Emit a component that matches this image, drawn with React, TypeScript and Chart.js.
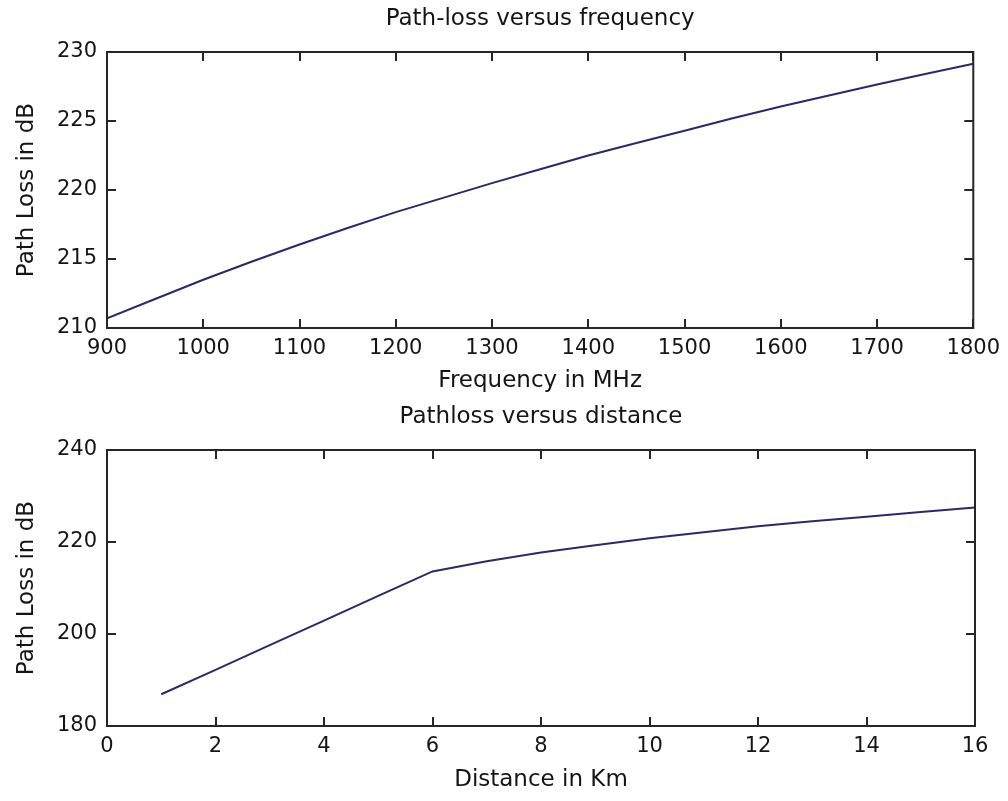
import React, { useEffect, useRef } from "react";
import { Chart, registerables } from "chart.js";

Chart.register(...registerables);

// ---------- data ----------
const freqMHz = [900, 950, 1000, 1050, 1100, 1150, 1200, 1250, 1300, 1350, 1400, 1450, 1500, 1550, 1600, 1650, 1700, 1750, 1800];
const freqLossDb = [210.7, 212.1, 213.5, 214.8, 216.05, 217.25, 218.4, 219.45, 220.5, 221.5, 222.5, 223.4, 224.3, 225.2, 226.05, 226.85, 227.65, 228.4, 229.15];
const freqXTicks = [900, 1000, 1100, 1200, 1300, 1400, 1500, 1600, 1700, 1800];
const freqYTicks = [210, 215, 220, 225, 230];

const distKm = [1, 2, 3, 4, 5, 6, 7, 8, 9, 10, 11, 12, 13, 14, 15, 16];
const distLossDb = [186.9, 192.2, 197.6, 202.9, 208.3, 213.6, 215.8, 217.7, 219.3, 220.8, 222.1, 223.4, 224.5, 225.5, 226.5, 227.5];
const distXTicks = [0, 2, 4, 6, 8, 10, 12, 14, 16];
const distYTicks = [180, 200, 220, 240];

// ---------- styles ----------
const FONT = "'DejaVu Sans', 'Liberation Sans', sans-serif";
const TEXT_COLOR = "#151515";
const AXIS_COLOR = "#262626";
const LINE_COLOR = "#2b2966";
const TICK_LEN = 9;

const matlabBox = {
  id: "matlabBox",
  afterDatasetsDraw(chart: any) {
    const { ctx, chartArea: a, scales } = chart;
    const x = scales.x;
    const y = scales.y;
    ctx.save();
    ctx.strokeStyle = AXIS_COLOR;
    ctx.lineWidth = 2;
    ctx.beginPath();
    for (const t of x.ticks) {
      const px = Math.round(x.getPixelForValue(t.value));
      ctx.moveTo(px, a.bottom);
      ctx.lineTo(px, a.bottom - TICK_LEN);
      ctx.moveTo(px, a.top);
      ctx.lineTo(px, a.top + TICK_LEN);
    }
    for (const t of y.ticks) {
      const py = Math.round(y.getPixelForValue(t.value));
      ctx.moveTo(a.left, py);
      ctx.lineTo(a.left + TICK_LEN, py);
      ctx.moveTo(a.right, py);
      ctx.lineTo(a.right - TICK_LEN, py);
    }
    ctx.stroke();
    ctx.strokeRect(a.left, a.top, a.right - a.left, a.bottom - a.top);
    ctx.restore();
  },
};

type PanelProps = {
  top: number;
  height: number;
  title: string;
  xLabel: string;
  yLabel: string;
  xs: number[];
  ys: number[];
  xTicks: number[];
  yTicks: number[];
  xTitlePadBottom: number;
};

function Panel(p: PanelProps) {
  const ref = useRef<HTMLCanvasElement | null>(null);
  useEffect(() => {
    if (!ref.current) return;
    const points = p.xs.map((x, i) => ({ x, y: p.ys[i] }));
    const xt = p.xTicks;
    const yt = p.yTicks;
    const chart = new Chart(ref.current, {
      type: "line",
      data: {
        datasets: [
          {
            data: points,
            borderColor: LINE_COLOR,
            borderWidth: 2,
            pointRadius: 0,
            tension: 0,
            fill: false,
            xAxisID: "x",
            yAxisID: "y",
          },
        ],
      },
      plugins: [matlabBox],
      options: {
        animation: false,
        responsive: false,
        devicePixelRatio: 1,
        events: [],
        layout: { padding: { left: 0, right: 33, top: 0, bottom: 0 } },
        plugins: {
          legend: { display: false },
          tooltip: { enabled: false },
          title: { display: false },
        },
        scales: {
          x: {
            type: "linear",
            position: "bottom",
            min: xt[0],
            max: xt[xt.length - 1],
            grid: { display: false, drawTicks: false },
            border: { display: false },
            afterBuildTicks: (s: any) => {
              s.ticks = xt.map((v) => ({ value: v }));
            },
            afterFit: (s: any) => {
              s.height = p.height - 52 - 276;
            },
            ticks: {
              autoSkip: false,
              maxRotation: 0,
              padding: 8,
              color: TEXT_COLOR,
              font: { family: FONT, size: 21 },
              callback: (v: any) => String(v),
            },
            title: {
              display: true,
              text: p.xLabel,
              color: TEXT_COLOR,
              font: { family: FONT, size: 23, lineHeight: 1 },
              padding: { top: 0, bottom: p.xTitlePadBottom },
            },
          },
          xTop: {
            type: "linear",
            position: "top",
            min: xt[0],
            max: xt[xt.length - 1],
            grid: { display: false, drawTicks: false },
            border: { display: false },
            ticks: { display: false },
            afterFit: (s: any) => {
              s.height = 52;
            },
            title: {
              display: true,
              text: p.title,
              color: TEXT_COLOR,
              font: { family: FONT, size: 23, lineHeight: 1 },
              padding: { top: 8, bottom: 0 },
            },
          },
          y: {
            type: "linear",
            min: yt[0],
            max: yt[yt.length - 1],
            grid: { display: false, drawTicks: false },
            border: { display: false },
            afterBuildTicks: (s: any) => {
              s.ticks = yt.map((v) => ({ value: v }));
            },
            afterFit: (s: any) => {
              s.width = 107;
            },
            ticks: {
              autoSkip: false,
              padding: 10,
              color: TEXT_COLOR,
              font: { family: FONT, size: 21 },
              callback: (v: any) => String(v),
            },
            title: {
              display: true,
              text: p.yLabel,
              color: TEXT_COLOR,
              font: { family: FONT, size: 23, lineHeight: 1 },
              padding: { top: 15.5, bottom: 0 },
            },
          },
        },
      } as any,
    });
    return () => chart.destroy();
  }, []);
  return (
    <canvas
      ref={ref}
      width={1008}
      height={p.height}
      style={{ position: "absolute", left: 0, top: p.top, width: 1008, height: p.height, display: "block" }}
    />
  );
}

export default function App() {
  return (
    <div style={{ position: "absolute", left: 0, top: 0, width: 1008, height: 801, background: "#ffffff", overflow: "hidden" }}>
      <Panel
        top={0}
        height={398}
        title="Path-loss versus frequency"
        xLabel="Frequency in MHz"
        yLabel="Path Loss in dB"
        xs={freqMHz}
        ys={freqLossDb}
        xTicks={freqXTicks}
        yTicks={freqYTicks}
        xTitlePadBottom={5.5}
      />
      <Panel
        top={398}
        height={403}
        title="Pathloss versus distance"
        xLabel="Distance in Km"
        yLabel="Path Loss in dB"
        xs={distKm}
        ys={distLossDb}
        xTicks={distXTicks}
        yTicks={distYTicks}
        xTitlePadBottom={9.5}
      />
    </div>
  );
}
